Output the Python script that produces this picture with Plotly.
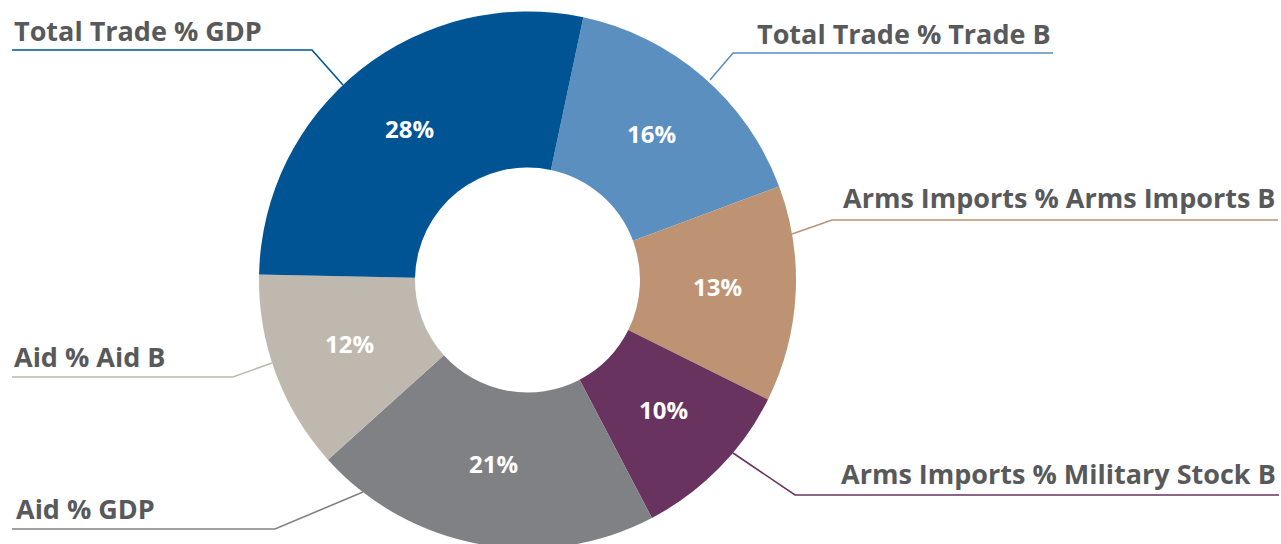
import math
import plotly.graph_objects as go

# ---- data ----
labels = ["Total Trade % Trade B", "Arms Imports % Arms Imports B",
          "Arms Imports % Military Stock B", "Aid % GDP", "Aid % Aid B",
          "Total Trade % GDP"]
values = [16, 13, 10, 21, 12, 28]
colors = ["#5a8fbf", "#bd9373", "#69335f", "#808184", "#bfb8ae", "#005494"]

# ---- layout constants ----
W, H = 1281, 560
TEXT_COLOR = "#58595b"
FONT = "Open Sans"
ROTATION = 12
cx, cy, r_out, hole = 527.5, 280, 268.5, 0.419
r_text = 190
text_dy = -3  # optical vertical correction for value labels

def px(x, y):
    return x / W, 1 - y / H

# label: (text x, baseline y, anchor, callout polyline points in px)
callouts = {
    "Total Trade % GDP": (12, 40, "left", [(12, 50), (312, 50), (343, 85)]),
    "Total Trade % Trade B": (1053, 43, "right", [(1053, 53), (733, 53), (710, 80)]),
    "Arms Imports % Arms Imports B": (1278, 207, "right", [(1278, 220), (832, 220), (792, 234)]),
    "Arms Imports % Military Stock B": (1278, 483, "right", [(1279, 495), (795, 495), (733, 453)]),
    "Aid % GDP": (14, 518, "left", [(12, 529), (275, 529), (363, 492)]),
    "Aid % Aid B": (12, 366, "left", [(12, 377), (233, 377), (272, 363)]),
}

fig = go.Figure(go.Pie(
    labels=labels, values=values, sort=False, direction="clockwise",
    rotation=ROTATION, hole=hole,
    marker=dict(colors=colors, line=dict(width=0)),
    textinfo="none",
    domain=dict(x=[(cx - r_out) / W, (cx + r_out) / W], y=[0, 1]),
    showlegend=False, hoverinfo="label+percent",
))

shapes = []
annotations = []
total = sum(values)
cum = 0
for lab, val, col in zip(labels, values, colors):
    # percentage label at slice mid-angle (clockwise from 12 o'clock)
    mid = math.radians(ROTATION + 360 * (cum + val / 2) / total)
    cum += val
    vx = cx + r_text * math.sin(mid)
    vy = cy - r_text * math.cos(mid) + text_dy
    ax, ay = px(vx, vy)
    annotations.append(dict(text=f"{round(100 * val / total)}%", x=ax, y=ay,
                            xref="paper", yref="paper", xanchor="center",
                            yanchor="middle", showarrow=False,
                            font=dict(family=FONT, size=24, color="white", weight=700)))
    # callout label + leader line
    tx, ty, anchor, pts = callouts[lab]
    path = "M " + " L ".join(f"{px(x, y)[0]:.5f},{px(x, y)[1]:.5f}" for x, y in pts)
    shapes.append(dict(type="path", path=path, xref="paper", yref="paper",
                       line=dict(color=col, width=1.6)))
    lx, ly = px(tx, ty - 10)
    annotations.append(dict(text=lab, x=lx, y=ly, xref="paper", yref="paper",
                            xanchor=anchor, yanchor="middle", showarrow=False,
                            font=dict(family=FONT, size=27, color=TEXT_COLOR, weight=700)))

fig.update_layout(
    width=W, height=H, autosize=False,
    margin=dict(l=0, r=0, t=0, b=0),
    paper_bgcolor="white", plot_bgcolor="white",
    shapes=shapes, annotations=annotations,
)

fig.write_html("out.html", config={"displayModeBar": False}, post_script=
    "document.body.style.margin='0';document.body.style.overflow='hidden';"
    "document.documentElement.style.overflow='hidden';")
